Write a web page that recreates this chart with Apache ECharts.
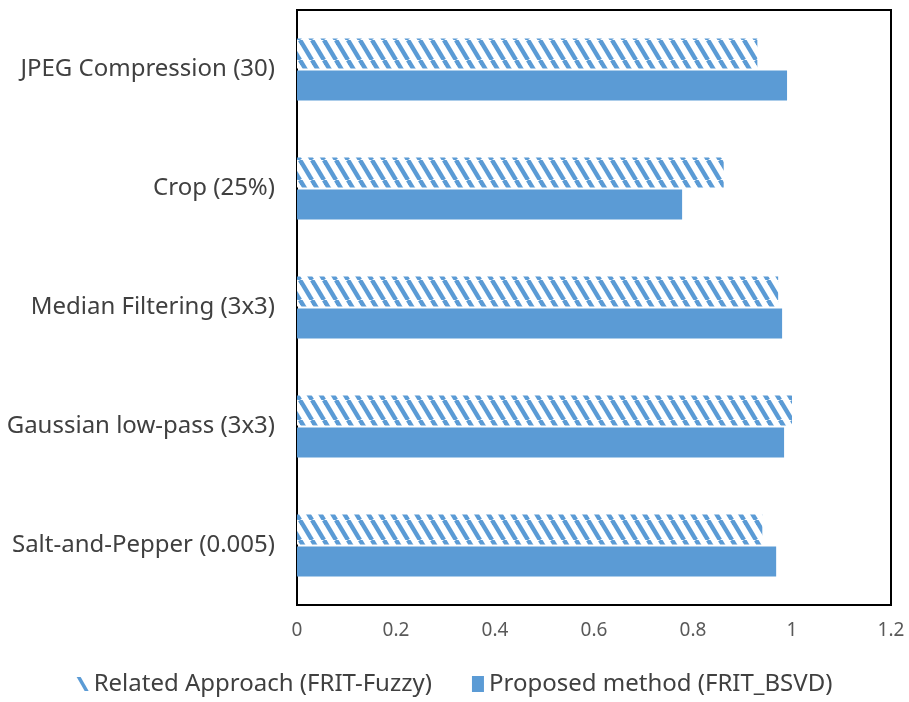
<!DOCTYPE html>
<html>
<head>
<meta charset="utf-8">
<script src="https://cdn.jsdelivr.net/npm/echarts@6/dist/echarts.min.js"></script>
<style>
  html, body { margin: 0; padding: 0; background: #fff; }
  #chart { width: 909px; height: 702px; }
</style>
</head>
<body>
<div id="chart"></div>
<script>
// Attack categories, listed bottom to top as the category axis draws them
const categories = [
  'Salt-and-Pepper (0.005)',
  'Gaussian low-pass (3x3)',
  'Median Filtering (3x3)',
  'Crop (25%)',
  'JPEG Compression (30)'
];
const relatedValues = [0.94, 1.0, 0.972, 0.862, 0.93];
const proposedValues = [0.968, 0.984, 0.98, 0.778, 0.99];
const seriesNames = ['Related Approach (FRIT-Fuzzy)', 'Proposed method (FRIT_BSVD)'];
const xTicks = { min: 0, max: 1.2, interval: 0.2 };

const BLUE = '#5b9bd5';
const FONT = '"Noto Sans", "Open Sans", sans-serif';

// Diagonal hatch tile ("\" stripes) for the related-approach bars
function hatchTile() {
  const w = 12, h = 20;
  const c = document.createElement('canvas');
  c.width = w; c.height = h;
  const ctx = c.getContext('2d');
  ctx.fillStyle = '#fff';
  ctx.fillRect(0, 0, w, h);
  ctx.strokeStyle = BLUE;
  ctx.lineWidth = 4.4;
  for (let k = -w; k <= w; k += w) {
    ctx.beginPath();
    ctx.moveTo(k, 0);
    ctx.lineTo(k + w, h);
    ctx.stroke();
  }
  return c;
}

const chart = echarts.init(document.getElementById('chart'), null, { renderer: 'canvas' });

chart.setOption({
  animation: false,
  backgroundColor: '#fff',
  grid: {
    left: 297, right: 18, top: 10, bottom: 97,
    show: true, borderColor: '#000', borderWidth: 2, backgroundColor: 'transparent'
  },
  legend: {
    bottom: 1,
    left: 'center',
    itemGap: 40,
    itemWidth: 12,
    itemHeight: 16,
    textStyle: { color: '#404040', fontSize: 24, fontFamily: FONT },
    data: [
      { name: seriesNames[0], icon: 'path://M0,0 L4,0 L12,14 L8,14 Z', itemStyle: { color: BLUE } },
      { name: seriesNames[1], icon: 'rect', itemStyle: { color: BLUE } }
    ]
  },
  xAxis: {
    type: 'value',
    min: xTicks.min, max: xTicks.max, interval: xTicks.interval,
    axisLine: { show: false },
    axisTick: { show: false },
    splitLine: { show: false },
    axisLabel: {
      color: '#595959', fontSize: 19, fontFamily: FONT, margin: 16,
      formatter: v => String(+v.toFixed(1))
    }
  },
  yAxis: {
    type: 'category',
    data: categories,
    axisLine: { show: true, lineStyle: { color: '#000', width: 2 } },
    axisTick: { show: false },
    axisLabel: { color: '#404040', fontSize: 24, fontFamily: FONT, margin: 22 }
  },
  series: [
    {
      name: seriesNames[0],
      type: 'bar',
      data: relatedValues,
      barWidth: 30,
      barGap: '6%',
      itemStyle: { color: { image: hatchTile(), repeat: 'repeat' } }
    },
    {
      name: seriesNames[1],
      type: 'bar',
      data: proposedValues,
      barWidth: 30,
      barGap: '6%',
      itemStyle: { color: BLUE }
    }
  ]
});
</script>
</body>
</html>
